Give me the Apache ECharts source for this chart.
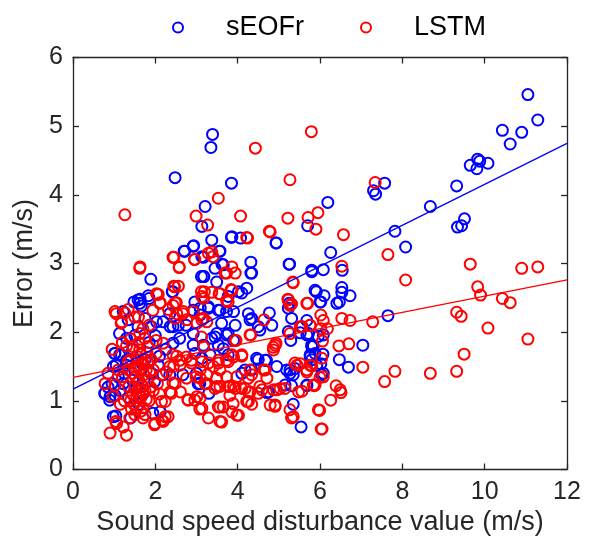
<!DOCTYPE html>
<html><head><meta charset="utf-8">
<script src="https://cdn.jsdelivr.net/npm/echarts@6/dist/echarts.min.js"></script>
<style>html,body{margin:0;padding:0;background:#fff}#c{width:591px;height:548px}</style>
</head><body><div id="c"></div>
<script>
const seriesNames = ['sEOFr', 'LSTM'];
const xTicks = [0, 2, 4, 6, 8, 10, 12];
const yTicks = [0, 1, 2, 3, 4, 5, 6];
const xTitle = 'Sound speed disturbance value (m/s)';
const yTitle = 'Error (m/s)';
const fitX = [0, 12];
const sEOFrFit = [1.17, 4.75];
const lstmFit = [1.34, 2.76];
const sEOFrPoints = [
[11.05,5.46],[11.29,5.09],[10.43,4.94],[10.90,4.91],[10.62,4.74],[9.83,4.52],[9.65,4.43],[9.81,4.38],[10.08,4.46],[9.88,4.49],[9.32,4.13],[8.68,3.83],[9.51,3.65],[9.34,3.53],[9.44,3.55],[7.82,3.47],[8.08,3.24],[7.57,4.17],[7.30,4.06],[7.35,4.01],[6.26,3.16],[6.19,3.89],[5.70,3.55],[5.80,2.90],[6.08,2.91],[6.54,2.90],
[6.53,2.65],[6.53,2.58],[6.73,2.53],[5.91,2.59],[6.10,2.53],[6.02,2.44],[6.41,2.42],[6.47,2.44],[7.65,2.24],[5.68,2.17],[5.52,1.99],[5.96,1.94],[5.84,1.80],[7.04,1.81],[6.07,1.68],[5.76,1.67],[5.80,1.60],[6.47,1.60],[6.69,1.49],[6.02,1.54],[6.08,1.40],[5.68,1.22],[5.54,0.62],
[3.39,4.88],[3.35,4.69],[2.48,4.25],[3.85,4.17],[3.21,3.83],[3.13,3.54],[3.37,3.34],[3.85,3.38],[4.07,3.37],[4.94,3.30],[2.92,3.25],[2.70,3.18],[3.56,3.18],[3.17,3.09],[3.62,2.99],[5.25,2.99],[3.45,2.93],[4.32,3.02],
[1.89,2.77],[3.18,2.81],[3.49,2.73],[4.32,2.86],[4.10,2.57],[4.22,2.64],[2.42,2.59],[1.83,2.53],[1.63,2.48],[1.48,2.44],[1.58,2.47],[1.66,2.38],[5.25,2.42],[5.23,2.35],[2.92,2.32],[3.29,2.35],[3.53,2.32],[3.73,2.30],[3.90,2.30],[4.26,2.27],[4.34,2.20],[4.77,2.28],[3.09,2.25],[2.36,2.08],[2.03,2.15],[2.56,2.10],[4.54,2.03],[3.37,1.91],[3.49,1.98],[3.73,1.96],[3.90,1.88],[2.92,1.81],[3.17,1.79],[3.65,1.76],[4.50,1.60],[4.70,1.59],[4.95,1.50],[5.29,1.88],[5.68,1.96],[5.80,1.79],[5.76,1.64],[5.27,1.45],[5.35,1.38],[5.15,1.23],[5.31,1.22],[4.10,1.40],[4.34,1.45],[3.05,1.25],[3.30,1.11],[4.75,1.13],[5.35,0.95],
[1.02,1.69],[1.18,1.67],[0.98,1.50],[1.30,1.59],[0.78,1.11],[0.90,1.06],[1.02,1.08],[0.98,0.77],[1.94,0.82],[0.77,1.11],[0.89,1.01],[1.04,0.78],[2.12,0.84],[1.22,1.25],[1.98,1.28],[2.19,1.38],[3.08,1.25],
[2.71,3.18],[2.93,3.26],[2.41,2.59],[1.85,2.49],[3.12,2.81],
[1.22,2.30],[1.62,2.42],[1.34,2.18],[1.58,2.08],[1.90,2.08],[2.19,2.15],[2.43,2.08],[2.35,2.27],[2.75,2.10],[2.92,1.98],[1.13,1.98],[1.30,1.91],[1.01,1.69],[1.13,1.67],[1.05,1.52],[1.30,1.52],[1.66,1.55],[2.07,1.52],[1.90,1.40],[2.35,1.38],[2.67,1.38],[3.00,1.40],[2.43,1.84],[2.59,1.91],
[3.86,3.39],[4.93,3.30],[3.13,3.10],[3.57,3.18],[3.65,2.98],[3.17,2.81],[4.34,2.86],[5.26,2.99],[5.80,2.88],[4.02,2.59],[3.77,2.52],[5.88,2.61],[6.00,2.44],[2.96,2.44],
[3.09,2.35],[3.29,2.37],[3.57,2.32],[3.61,2.13],[3.94,2.10],[4.30,2.18],[4.50,2.08],[4.83,2.10],[3.77,1.98],[3.45,1.93],[3.17,1.81],[3.53,1.81],[3.33,1.67],[3.13,1.62],[3.77,1.67],[4.46,1.62],[4.67,1.59],[5.31,2.20],[5.56,2.08],[5.23,2.01],[5.72,1.98],[5.80,1.81],[6.08,1.96],[5.88,1.69],[5.92,1.52],[6.04,1.38],[5.39,1.47],[5.19,1.45],[4.18,1.45],[2.96,1.69],
[3.04,1.25],[4.71,1.12],[5.68,1.23],[5.27,1.40],
[1.45,1.30],[1.55,1.20],[1.70,1.10],[1.35,1.05],[1.60,0.95],[1.75,1.60],[1.45,1.75],[1.85,1.85],[2.00,1.95],[1.25,1.40],[0.95,1.25],[1.10,1.35],[1.50,1.95],[1.75,2.20],[2.25,1.75],[2.10,1.65],[1.40,0.75],[1.15,1.15],[0.85,1.20]
];
const lstmPoints = [
[5.79,4.92],[7.34,4.18],[5.71,3.67],[5.95,3.74],[5.90,3.50],[6.57,3.42],[7.65,3.13],[6.53,2.96],[9.65,2.99],[10.90,2.93],[11.29,2.95],
[8.08,2.76],[9.83,2.66],[9.90,2.54],[10.43,2.49],[10.62,2.43],[5.68,2.42],[9.32,2.29],[9.43,2.23],[10.08,2.06],[11.05,1.90],[6.02,2.25],[6.08,2.17],[6.53,2.20],[6.73,2.17],[7.28,2.15],[5.76,2.10],[5.56,2.08],[6.02,2.05],[6.18,2.05],[6.06,1.87],[6.46,1.80],[6.70,1.83],[9.50,1.68],[7.04,1.49],[7.82,1.43],[8.68,1.40],[9.32,1.43],[7.57,1.28],[5.68,1.42],[5.80,1.51],[5.52,1.54],[6.08,1.35],[5.86,1.22],[5.56,1.14],[6.39,1.22],[6.49,1.16],[6.51,1.12],[6.26,1.01],[5.99,0.86],[6.05,0.59],
[4.43,4.68],[5.27,4.22],[3.53,3.95],[1.26,3.71],[2.99,3.69],[4.07,3.69],[5.22,3.66],[3.27,3.56],[4.77,3.47],[4.24,3.37],[3.37,3.17],[3.40,3.10],[2.45,3.09],[2.95,3.06],[1.63,2.95],[2.58,2.95],[3.86,2.95],
[2.45,2.67],[2.56,2.67],[3.73,2.86],[3.94,2.86],[3.86,2.61],[5.35,2.72],[3.19,2.59],[3.37,2.58],[3.55,2.56],[3.13,2.52],[2.03,2.56],[2.11,2.42],[2.48,2.43],[5.23,2.47],[1.02,2.30],[1.34,2.33],[1.59,2.22],[1.18,2.15],[2.32,2.33],[2.52,2.27],[2.68,2.30],[2.76,2.18],[2.48,2.20],[3.17,2.20],[3.25,2.15],[3.01,2.13],[4.64,2.18],[3.96,1.88],[4.32,1.96],[4.93,1.84],[4.87,1.78],[3.17,1.79],
[2.52,1.65],[2.76,1.64],[2.60,1.52],[2.44,1.50],[2.88,1.59],[3.53,1.59],[3.73,1.59],[3.90,1.64],[4.10,1.65],[3.09,1.45],[3.41,1.50],[3.57,1.45],[3.25,1.38],[3.49,1.33],[3.73,1.35],[3.98,1.35],[4.26,1.33],[4.34,1.38],[4.71,1.33],[4.63,1.45],[5.44,1.52],[5.68,1.45],[5.88,1.23],[2.76,1.33],[2.99,1.35],[3.25,1.25],[3.45,1.18],[3.57,1.21],[3.81,1.21],[3.90,1.21],[4.10,1.18],[4.26,1.13],[4.59,1.16],[4.87,1.16],[4.54,1.21],[5.03,1.18],[5.48,1.13],[2.80,1.01],[2.96,1.01],[3.13,0.89],[3.57,0.91],[3.65,0.91],[3.89,0.96],[4.22,0.99],[4.34,0.95],[4.79,0.94],[4.91,0.94],[5.27,0.87],[5.35,0.77],[3.29,0.75],[3.61,0.69],[4.02,0.79],[2.48,1.25],[2.36,1.13],[2.24,0.99],[2.24,0.77],[1.99,0.67],[2.16,0.72],[0.90,0.53],[1.30,0.50],[1.22,0.62],[1.06,0.67],[0.78,1.25],[1.02,1.23],[0.98,1.06],
[1.04,0.70],[1.38,0.75],[1.70,0.75],[1.98,0.65],[2.19,0.70],[2.31,0.77],[2.15,0.99],[2.39,1.11],[2.61,1.13],[2.79,1.02],[3.08,0.88],[2.43,1.26],[2.15,1.38],
[1.62,2.93],[2.43,3.09],[2.58,2.94],[2.96,3.06],[2.47,2.66],[2.07,2.55],[2.51,2.43],[2.12,2.43],[3.12,2.59],
[1.05,2.27],[1.26,2.28],[1.17,2.13],[1.50,2.22],[1.94,2.32],[2.43,2.39],[2.67,2.27],[2.92,2.30],[1.62,1.98],[1.74,1.91],[2.02,1.88],[2.19,1.84],[1.46,1.79],[1.62,1.74],[1.82,1.79],[2.02,1.69],[1.34,1.57],[1.50,1.50],[1.62,1.45],[1.86,1.42],[2.27,1.42],[2.43,1.67],[2.59,1.59],[2.35,1.50],[2.88,1.55],[3.12,1.93],
[4.22,3.38],[4.79,3.46],[3.29,3.15],[3.69,2.86],[3.84,2.62],[3.57,2.56],[3.17,2.49],[3.73,2.46],[5.34,2.73],[5.22,2.48],[5.31,2.41],[5.70,2.42],
[3.77,2.44],[5.27,2.39],[3.13,2.18],[4.30,1.96],[5.27,1.98],[5.52,2.08],[5.76,2.10],[3.94,1.88],[4.91,1.81],[4.87,1.74],[4.10,1.67],[3.86,1.67],[3.13,1.57],[3.29,1.55],[3.53,1.55],[3.77,1.57],[4.67,1.45],[4.30,1.45],[5.39,1.55],[5.76,1.52],[6.04,1.62],
[3.09,1.33],[3.21,1.25],[3.49,1.21],[3.77,1.21],[3.94,1.18],[4.18,1.18],[4.30,1.13],[4.50,1.11],[4.95,1.16],[5.15,1.18],[5.84,1.23],[3.81,1.08],[4.26,0.99],[4.91,0.92],[3.09,1.04],[3.53,0.91],[3.86,0.84],[3.98,0.79],[3.57,0.70],[5.31,0.75],[5.96,0.87],[6.03,0.59],[6.00,1.34],[3.01,1.06],
[1.40,1.00],[1.55,0.90],[1.65,1.05],[1.75,1.15],[1.50,1.20],[1.60,1.30],[1.80,1.30],[1.45,1.40],[1.70,1.55],[1.90,1.60],[1.55,1.65],[1.35,1.20],[1.25,1.00],[1.20,1.35],[1.85,1.00],[1.95,1.15],[1.70,0.90],[1.50,0.80],[1.65,0.85],[1.40,1.60],[1.80,1.70],[1.60,1.85],[2.05,1.25],[1.95,1.45],[1.30,1.80],[1.10,1.45],[1.15,0.95],[1.45,1.10],[1.62,1.15],[1.78,1.45],[1.55,1.05],[2.10,1.10],[1.85,2.10],[1.70,2.05],[1.40,1.90],[0.85,1.40],[0.95,1.75],[1.20,1.85],[1.75,0.80],[1.58,1.60],
[1.48,0.95],[1.68,1.22],[1.52,1.35],[1.72,1.38],[1.88,1.20],[1.35,1.45],[1.58,1.50],[1.82,1.55],[1.65,1.68],[1.42,0.88],[1.78,1.02],[1.60,1.10]
];

const BLUE = '#0000ff', RED = '#ff0000', AXIS = '#262626';
const FONT = 'Liberation Sans';
const chart = echarts.init(document.getElementById('c'));
const axisCommon = {
  min: 0, interval: 2,
  axisLine: { show: true, onZero: false, lineStyle: { color: AXIS, width: 1.3 } },
  axisTick: { show: true, inside: true, length: 6, lineStyle: { color: AXIS, width: 1.3 } },
  splitLine: { show: false }
};
const fitLine = (name, color, vals) => ({
  name: name + ' fit', type: 'line', xAxisIndex: 0, yAxisIndex: 0,
  data: fitX.map((x, i) => [x, vals[i]]), symbol: 'none', silent: true,
  lineStyle: { color: color, width: 1.3 }, z: 3
});
const scatter = (name, color, pts) => ({
  name: name, type: 'scatter', data: pts, symbol: 'circle', symbolSize: 11,
  itemStyle: { color: 'rgba(0,0,0,0)', borderColor: color, borderWidth: 2, opacity: 1 },
  emphasis: { disabled: true }, z: 2
});
chart.setOption({
  animation: false,
  textStyle: { fontFamily: FONT },
  legend: {
    left: 167, top: 9, itemWidth: 10, itemHeight: 10, itemGap: 56,
    textStyle: { fontSize: 27, color: '#000', fontFamily: FONT, padding: [0, 0, 0, 38] },
    data: [
      { name: seriesNames[0], icon: 'circle', itemStyle: { color: 'rgba(0,0,0,0)', borderColor: BLUE, borderWidth: 2 } },
      { name: seriesNames[1], icon: 'circle', itemStyle: { color: 'rgba(0,0,0,0)', borderColor: RED, borderWidth: 2 } }
    ]
  },
  grid: { left: 73, right: 24, top: 57.5, bottom: 78.5, containLabel: false },
  xAxis: [
    Object.assign({}, axisCommon, { type: 'value', max: 12, position: 'bottom',
      name: xTitle, nameLocation: 'middle', nameGap: 40,
      nameTextStyle: { fontSize: 27, color: '#262626', fontFamily: FONT },
      axisLabel: { fontSize: 25, color: '#262626', margin: 10, fontFamily: FONT,
        formatter: v => xTicks.includes(v) ? String(v) : '' } }),
    Object.assign({}, axisCommon, { type: 'value', max: 12, position: 'top', axisLabel: { show: false } })
  ],
  yAxis: [
    Object.assign({}, axisCommon, { type: 'value', max: 6, interval: 1, position: 'left',
      name: yTitle, nameLocation: 'middle', nameGap: 31, nameRotate: 90,
      nameTextStyle: { fontSize: 27, color: '#262626', fontFamily: FONT },
      axisLabel: { fontSize: 25, color: '#262626', margin: 10, fontFamily: FONT,
        formatter: v => yTicks.includes(v) ? String(v) : '' } }),
    Object.assign({}, axisCommon, { type: 'value', max: 6, interval: 1, position: 'right', axisLabel: { show: false } })
  ],
  series: [
    scatter(seriesNames[0], BLUE, sEOFrPoints),
    scatter(seriesNames[1], RED, lstmPoints),
    fitLine(seriesNames[0], BLUE, sEOFrFit),
    fitLine(seriesNames[1], RED, lstmFit)
  ]
});
</script></body></html>
